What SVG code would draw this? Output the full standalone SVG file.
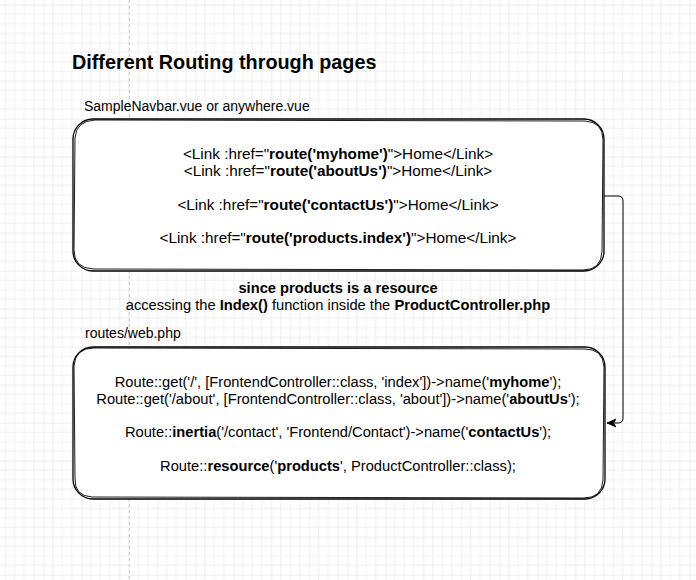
<svg xmlns="http://www.w3.org/2000/svg" width="696" height="580" viewBox="0 0 696 580">
<style>
text{font-family:"Liberation Sans",Arial,sans-serif;fill:#000;}
.t{font-size:14px;}
.m{font-size:14.7px;}
.l{font-size:15.3px;}
.c{text-anchor:middle;}
.b{font-weight:bold;}
.box{fill:#fff;stroke:#000;stroke-width:1.3;}
.sk{fill:none;stroke:#000;stroke-width:0.9;}
.edge{fill:none;stroke:#000;stroke-width:1;}
</style>
<defs>
<pattern id="grid" width="38" height="38" patternUnits="userSpaceOnUse" x="5.3" y="4.7">
<path d="M9.5,0V38M19,0V38M28.5,0V38M0,9.5H38M0,19H38M0,28.5H38" stroke="#f0f0f0" stroke-width="1" fill="none"/>
<path d="M0,0V38M0,0H38" stroke="#e0e0e0" stroke-width="1" fill="none"/>
</pattern>
<marker id="arr" markerWidth="10" markerHeight="10" refX="9" refY="5" orient="auto" markerUnits="userSpaceOnUse">
<path d="M0,1 L9,5 L0,9 L2.5,5 Z" fill="#000" stroke="#000" stroke-width="0.8"/>
</marker>
</defs>
<rect width="696" height="580" fill="#fff"/>
<rect width="696" height="580" fill="url(#grid)"/>
<line x1="129.3" y1="0" x2="129.3" y2="580" stroke="#c8c8c8" stroke-width="1" stroke-dasharray="3 3"/>

<g id="title">
<text x="72" y="69" class="b" font-size="19.8">Different Routing through pages</text>
</g>
<g id="label-navbar">
<text x="84" y="111" class="t">SampleNavbar.vue or anywhere.vue</text>
</g>

<g id="connectors">
<path class="edge" d="M604,196 H618 Q623,196 623,201 V418 Q623,423 618,423 H607" marker-end="url(#arr)"/>
</g>

<g id="navbar-box">
<rect class="box" x="73" y="119" width="531" height="152" rx="20" ry="20"/>
<path class="sk" d="M75,138 Q76,121 95,120 L585,121 Q603,122 603,140 L602,252 Q601,270 583,270 L93,269 Q74,268 74,250 Z"/>
<text x="338" y="159" class="l c">&lt;Link :href="<tspan class="b">route('myhome')</tspan>"&gt;Home&lt;/Link&gt;</text>
<text x="338" y="176" class="l c">&lt;Link :href="<tspan class="b">route('aboutUs')</tspan>"&gt;Home&lt;/Link&gt;</text>
<text x="338" y="210" class="l c">&lt;Link :href="<tspan class="b">route('contactUs')</tspan>"&gt;Home&lt;/Link&gt;</text>
<text x="338" y="243" class="l c">&lt;Link :href="<tspan class="b">route('products.index')</tspan>"&gt;Home&lt;/Link&gt;</text>
</g>

<g id="note">
<text x="338" y="293" class="m c b">since products is a resource</text>
<text x="338" y="310" class="m c">accessing the <tspan class="b">Index()</tspan> function inside the <tspan class="b">ProductController.php</tspan></text>
</g>

<g id="label-routes">
<text x="85" y="338" class="t">routes/web.php</text>
</g>

<g id="routes-box">
<rect class="box" x="73" y="347" width="532" height="152" rx="20" ry="20"/>
<path class="sk" d="M74,366 Q75,348 94,348 L585,349 Q603,349 604,367 L603,480 Q602,498 584,498 L92,497 Q74,496 75,478 Z"/>
<text x="338" y="387" class="m c">Route::get('/', [FrontendController::class, 'index'])-&gt;name('<tspan class="b">myhome</tspan>');</text>
<text x="338" y="404" class="m c">Route::get('/about', [FrontendController::class, 'about'])-&gt;name('<tspan class="b">aboutUs</tspan>');</text>
<text x="338" y="437" class="m c">Route::<tspan class="b">inertia</tspan>('/contact', 'Frontend/Contact')-&gt;name('<tspan class="b">contactUs</tspan>');</text>
<text x="338" y="471" class="m c">Route::<tspan class="b">resource</tspan>('<tspan class="b">products</tspan>', ProductController::class);</text>
</g>
</svg>
